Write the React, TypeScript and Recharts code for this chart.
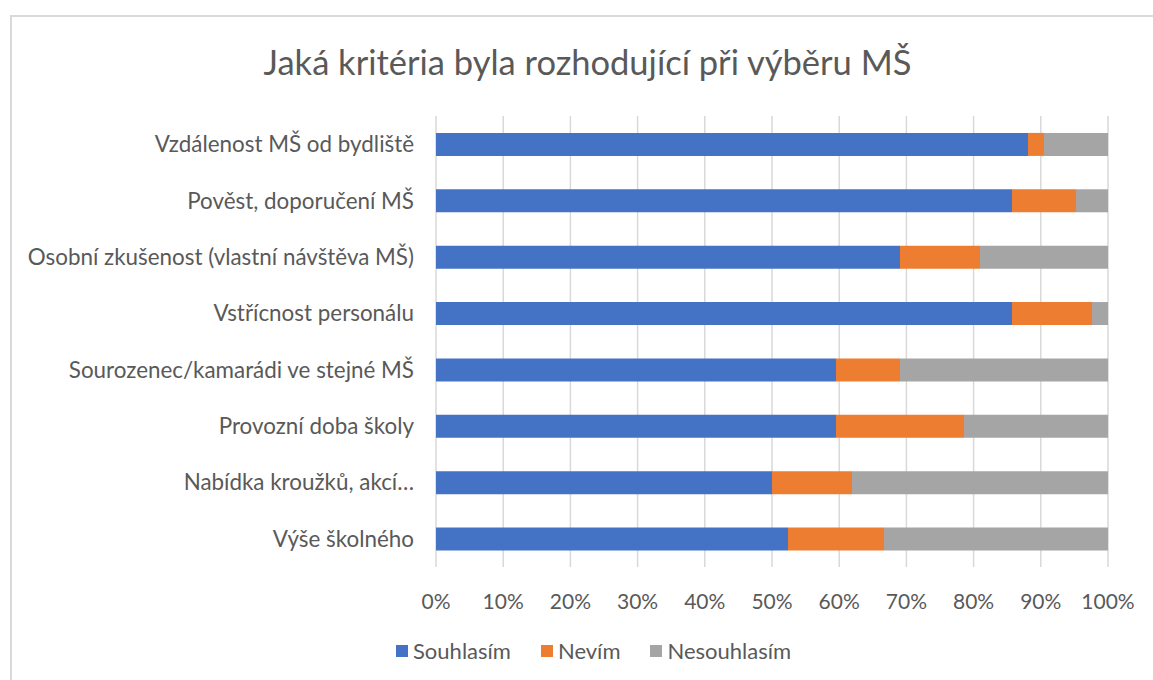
import React from 'react';
import { BarChart, Bar, XAxis, YAxis, CartesianGrid } from 'recharts';

const categories = [
  'Vzdálenost MŠ od bydliště',
  'Pověst, doporučení MŠ',
  'Osobní zkušenost (vlastní návštěva MŠ)',
  'Vstřícnost personálu',
  'Sourozenec/kamarádi ve stejné MŠ',
  'Provozní doba školy',
  'Nabídka kroužků, akcí…',
  'Výše školného',
];
const souhlasim = [37, 36, 29, 36, 25, 25, 21, 22];
const nevim = [1, 4, 5, 5, 4, 8, 5, 6];
const nesouhlasim = [4, 2, 8, 1, 13, 9, 16, 14];
const xTicks = [0, 0.1, 0.2, 0.3, 0.4, 0.5, 0.6, 0.7, 0.8, 0.9, 1];
const seriesNames = ['Souhlasím', 'Nevím', 'Nesouhlasím'];
const title = 'Jaká kritéria byla rozhodující při výběru MŠ';

const data = categories.map((c, i) => ({
  name: c,
  s: souhlasim[i],
  n: nevim[i],
  ns: nesouhlasim[i],
}));

const FONT = 'Lato, "Open Sans", sans-serif';
const TXT = '#595959';
const colors = ['#4472C4', '#ED7D31', '#A5A5A5'];

export default function App() {
  return (
    <div style={{ position: 'absolute', left: 0, top: 0, width: 1153, height: 680, overflow: 'hidden', background: '#fff' }}>
      <div style={{ position: 'absolute', left: 10, top: 15, width: 1200, height: 700, borderLeft: '2px solid #d9d9d9', borderTop: '2px solid #d9d9d9' }} />
      <div style={{ position: 'absolute', left: 0, top: 41, width: 1175, textAlign: 'center', fontFamily: FONT, fontSize: 34.5, lineHeight: '42px', color: TXT, whiteSpace: 'nowrap' }}>
        {title}
      </div>
      <div style={{ position: 'absolute', left: 0, top: 0 }}>
        <BarChart
          width={1153}
          height={680}
          data={data}
          layout="vertical"
          stackOffset="expand"
          barCategoryGap="30%"
          margin={{ top: 116, right: 45, left: 0, bottom: 63 }}
        >
          <CartesianGrid horizontal={false} stroke="#d9d9d9" strokeWidth={1.5} />
          <XAxis
            type="number"
            domain={[0, 1]}
            ticks={xTicks}
            tickFormatter={(v: number) => `${Math.round(v * 100)}%`}
            axisLine={false}
            tickLine={false}
            tickSize={0}
            tickMargin={27}
            height={50}
            interval={0}
            tick={{ fill: TXT, fontSize: 21, fontFamily: FONT }}
          />
          <YAxis
            type="category"
            dataKey="name"
            width={436}
            axisLine={false}
            tickLine={false}
            tickSize={0}
            tickMargin={22}
            interval={0}
            tick={{ fill: TXT, fontSize: 22.4, fontFamily: FONT }}
          />
          <Bar dataKey="s" name={seriesNames[0]} stackId="a" fill={colors[0]} isAnimationActive={false} />
          <Bar dataKey="n" name={seriesNames[1]} stackId="a" fill={colors[1]} isAnimationActive={false} />
          <Bar dataKey="ns" name={seriesNames[2]} stackId="a" fill={colors[2]} isAnimationActive={false} />
        </BarChart>
      </div>
      <div style={{ position: 'absolute', left: 396, top: 637, display: 'flex', alignItems: 'center', fontFamily: FONT, fontSize: 22, lineHeight: '28px', color: TXT, whiteSpace: 'nowrap' }}>
        {seriesNames.map((n, i) => (
          <div key={n} style={{ display: 'flex', alignItems: 'center', marginRight: i < 2 ? 30 : 0 }}>
            <span style={{ display: 'inline-block', width: 12, height: 12, background: colors[i], marginRight: 5 }} />
            <span>{n}</span>
          </div>
        ))}
      </div>
    </div>
  );
}
